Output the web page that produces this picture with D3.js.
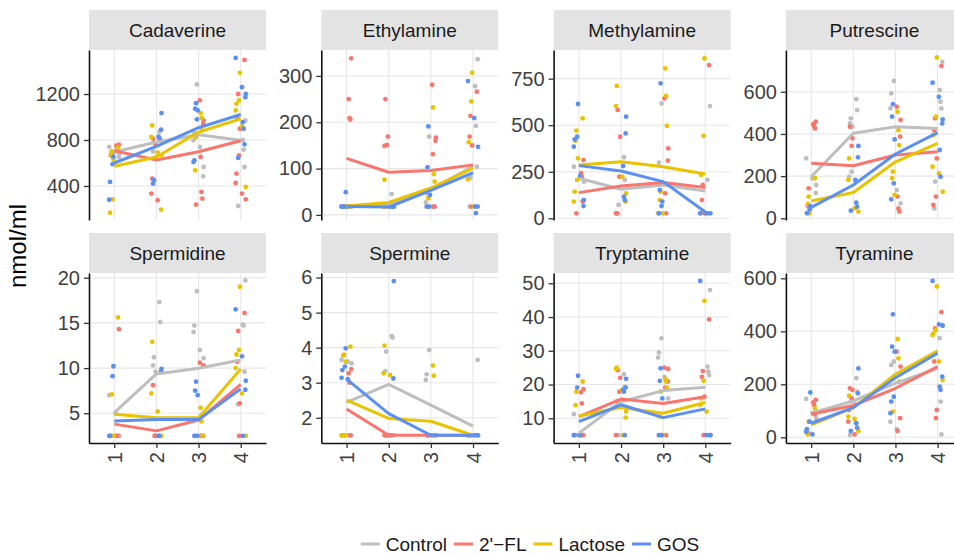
<!DOCTYPE html>
<html><head><meta charset="utf-8">
<script src="https://cdn.jsdelivr.net/npm/d3@7"></script>
<style>body{margin:0;background:#fff;} svg{display:block;font-family:"Liberation Sans",Arial,sans-serif;}</style>
</head><body><svg id="chart" width="954" height="555"></svg>
<script>
const timepoints = ["1","2","3","4"];
const groups = ["Control","2'\u2212FL","Lactose","GOS"];
const groupColors = ["#BEBEBE","#F8766D","#E8C300","#5B8FF2"];
const compounds = ["Cadaverine","Ethylamine","Methylamine","Putrescine","Spermidine","Spermine","Tryptamine","Tyramine"];
const yTicks = [[400,800,1200],[0,100,200,300],[0,250,500,750],[0,200,400,600],[5,10,15,20],[2,3,4,5,6],[10,20,30,40,50],[0,200,400,600]];
const yDomains = [[104,1583],[-11,356],[-9,904],[-8,798],[1.71,20.52],[1.28,6.13],[2.68,53.05],[-21.5,620]];

// points: [Control, 2'-FL, Lactose, GOS] x [t1..t4]
const ptsCadaverine = [
 [[740,700,680,650],[870,800,780,700,650],[1283,860,797,740,565,484],[970,800,716,565,226]],
 [[760,750,740,720,690,665],[812,760,640,464,334,276],[1144,970,941,652,348,290,238],[1497,1200,984,898,666,507,426,334,284]],
 [[733,700,668,630,284,168],[927,826,690,668,195],[1034,993,883,826,536],[1384,1144,1115,1057,918,391]],
 [[655,590,435,280],[1034,890,830,815,800,450,420],[1120,1072,1057,980,623,608],[1514,1259,1201,1172,955,898,762,644]]
];
const meanCadaverine = [[695,782,846,797],[707,626,698,794],[571,652,869,985],[600,745,907,1022]];

const ptsEthylamine = [
 [[18,18,18,18],[45,18,18,18],[169,47,27,18],[336,278,192,104,81,18]],
 [[338,250,209,206,18,18],[250,169,151,149,18,18],[281,167,160,131,18,18],[266,214,169,150,18]],
 [[18,18,18,18,18],[76,18,18,18,18],[232,88,72,36,18],[307,245,157,77,18]],
 [[49,18,18,18,18],[18,18,18,18],[191,103,43,18,18],[289,209,147,18,18,4]]
];
const meanEthylamine = [[18,22,55,105],[122,92,96,108],[19,27,58,101],[18,17,53,91]];

const ptsMethylamine = [
 [[277,224,197,98],[328,206,72,27],[617,299,27],[603,206,27]],
 [[313,242,224,90,27],[582,438,224,27,27],[644,376,310,134,27],[823,179,98,27]],
 [[537,471,417,322,206,143,90],[711,603,224,134,90],[805,657,496,143,98,27],[859,442,233,27]],
 [[614,438,424,385,227,98,66],[546,456,281,116,98],[725,152,90,66,27],[27,27,27]]
];
const meanMethylamine = [[215,156,179,147],[138,174,192,166],[286,304,277,238],[283,254,197,34]];

const ptsPutrescine = [
 [[284,190,158,120],[565,513,474,450,434,221,197],[651,592,521,134,71],[742,608,553,521,174,47]],
 [[458,446,436,426,142,60],[434,379,343],[529,466,387,103,47,32],[722,474,418,284,103,63]],
 [[190,103,68,43,24],[284,182,47,32],[505,418,347,221,190,111],[763,482,395,245,213,126]],
 [[58,43,24],[343,289,182,74,55,36],[541,482,374,166,90],[643,576,469,450,324,197]]
];
const meanPutrescine = [[197,403,434,426],[261,249,300,316],[82,122,268,355],[52,158,305,406]];

const ptsSpermidine = [
 [[7,5,2.5,2.5],[17.3,15.1,11.2,10.3,9.6,2.5],[18.5,14.7,14,12,11.1,10.2,2.5],[19.7,14.8,14.7,9.6,6.0]],
 [[14.3,2.5,2.5],[8.1,2.5,2.5],[10.6,10.3,2.5,2.5],[16.1,14.1,10.7,6.1,2.5]],
 [[15.6,7.1,2.5,2.5],[12.9,7.2,5.2,2.5],[5.6,4.1,2.5,2.5],[19,12,11.5,10,7.2,2.5]],
 [[10.2,9.1,2.5,2.5],[9.9,9.6,2.5,2.5],[8.5,7.5,7.0,2.5,2.5],[16.5,11.3,8.6,7.6,2.5]]
];
const meanSpermidine = [[5.07,9.35,9.98,10.9],[3.8,3.05,4.25,8.2],[4.9,4.5,4.5,9.9],[4.15,4.3,4.3,7.7]];

const ptsSpermine = [
 [[3.65,3.6,3.55,1.5,1.5],[4.33,4.29,3.89,3.33,1.5],[3.93,3.24,3.08,1.5],[3.65,1.5]],
 [[3.39,3.27,3.0,1.5,1.5],[1.5,1.5,1.5,1.5],[1.5,1.5,1.5],[1.5,1.5,1.5]],
 [[4.03,3.8,3.77,3.6,1.5,1.5,1.5],[4.06,3.27,3.22,1.5],[3.49,3.2,1.5],[1.5,1.5]],
 [[3.98,3.46,3.36,3.14,3.1],[5.9,3.12,1.5],[1.5,1.5],[1.5,1.5,1.5]]
];
const meanSpermine = [[2.44,2.95,2.36,1.76],[2.25,1.5,1.5,1.5],[2.5,1.98,1.9,1.5],[3.1,2.12,1.5,1.5]];

const ptsTryptamine = [
 [[11.2,5,5,5],[23,19.4,5],[33.7,29.5,28,22.3,15.9],[48,25.3,23.8,22.8]],
 [[18.6,17.7,14.4,5],[24.2,22,17.9,15,5],[25,24.6,20.9,19.1,5],[39.3,24,22.3,16.4,5]],
 [[20.9,17.9,13.9,5],[25,24.6,18.4,12,10.2,5],[21.7,20.9,19.1,17.9,10.5,5],[44.8,21.1,15.9,14,12,5]],
 [[22.6,19.1,5,5,5],[21.7,19.1,18.4,17.9,5],[24.8,21.1,15.9,5,5],[50.7,5,5,5]]
];
const meanTryptamine = [[5.6,14.9,18.2,19.2],[10.5,15.7,14.4,16.4],[10.7,13.2,11.5,14.7],[9.0,14,10.2,12.8]];

const ptsTyramine = [
 [[145,91,72],[223,172,135,9],[286,273,59,31],[424,374,135,11]],
 [[141,132,122,87,15],[185,179,147,103,59,11],[323,267,72,24],[472,411,286,103,72]],
 [[109,59,11],[157,78,69,24],[371,298,210,97],[569,405,392,386,286,216]],
 [[169,59,31,21,11],[260,166,122,53,36,24],[464,342,323,153,135,91],[590,426,421,229,191,179]]
];
const meanTyramine = [[91,137,204,260],[87,120,185,267],[47,112,238,326],[53,112,225,317]];

const allPoints = [ptsCadaverine,ptsEthylamine,ptsMethylamine,ptsPutrescine,ptsSpermidine,ptsSpermine,ptsTryptamine,ptsTyramine];
const allMeans = [meanCadaverine,meanEthylamine,meanMethylamine,meanPutrescine,meanSpermidine,meanSpermine,meanTryptamine,meanTyramine];

// fixed horizontal jitter pattern (fraction of category step)
const JITTER = [-0.12,0.07,-0.04,0.11,-0.08,0.03,0.09,-0.10,0.05,-0.02,0.12,-0.06];

const svg = d3.select("#chart");
const colX0 = 89, colStep = 232.3, panelW = 177;
const rowTop = [10, 233], stripH = 40, panelH = 170;
const FS = 19, TFS = 20;

compounds.forEach((name, k) => {
  const col = k % 4, row = Math.floor(k / 4);
  const x0 = colX0 + col * colStep, sy = rowTop[row], py = sy + stripH;
  const g = svg.append("g").attr("transform", `translate(${x0},${py})`);
  const x = d3.scalePoint().domain(timepoints).range([0, panelW]).padding(0.6);
  const y = d3.scaleLinear().domain(yDomains[k]).range([panelH, 0]);
  const step = x.step();

  // strip
  svg.append("rect").attr("x", x0).attr("y", sy).attr("width", panelW).attr("height", stripH).attr("fill", "#E3E3E3");
  svg.append("text").attr("x", x0 + panelW / 2).attr("y", sy + stripH / 2).attr("dy", "0.36em")
    .attr("text-anchor", "middle").attr("font-size", FS).attr("fill", "#1A1A1A").text(name);

  // grid
  g.selectAll(".hg").data(yTicks[k]).join("line")
    .attr("x1", 0).attr("x2", panelW).attr("y1", d => y(d)).attr("y2", d => y(d))
    .attr("stroke", "#E6E6E6").attr("stroke-width", 1.1);
  g.selectAll(".vg").data(timepoints).join("line")
    .attr("x1", d => x(d)).attr("x2", d => x(d)).attr("y1", 0).attr("y2", panelH)
    .attr("stroke", "#E6E6E6").attr("stroke-width", 1.1);

  // points
  const pts = [];
  allPoints[k].forEach((grp, gi) => grp.forEach((vals, ti) => vals.forEach((v, i) => {
    pts.push({gi, t: timepoints[ti], v, j: JITTER[(i * 5 + gi * 3 + ti) % JITTER.length]});
  })));
  g.selectAll(".pt").data(pts).join("circle")
    .attr("cx", d => x(d.t) + d.j * step).attr("cy", d => y(d.v)).attr("r", 2.4)
    .attr("fill", d => groupColors[d.gi]);

  // mean lines
  const line = d3.line().x((d, i) => x(timepoints[i])).y(d => y(d));
  allMeans[k].forEach((m, gi) => {
    g.append("path").attr("d", line(m)).attr("fill", "none")
      .attr("stroke", groupColors[gi]).attr("stroke-width", 3).attr("stroke-linejoin", "round");
  });

  // y axis
  const ya = g.append("g").call(d3.axisLeft(y).tickValues(yTicks[k]).tickFormat(d => String(d))
    .tickSize(5).tickSizeOuter(0).tickPadding(4));
  ya.select(".domain").attr("stroke", "#111").attr("stroke-width", 1.6);
  ya.selectAll(".tick line").attr("stroke", "#333").attr("stroke-width", 1.3);
  ya.selectAll("text").attr("font-size", TFS).attr("fill", "#404040").attr("font-family", "Liberation Sans, Arial, sans-serif");

  // x axis (bottom row only)
  if (row === 1) {
    const xa = g.append("g").attr("transform", `translate(0,${panelH})`)
      .call(d3.axisBottom(x).tickSize(5).tickSizeOuter(0));
    xa.select(".domain").attr("stroke", "#111").attr("stroke-width", 1.6);
    xa.selectAll(".tick line").attr("stroke", "#333").attr("stroke-width", 1.3);
    xa.selectAll("text").attr("font-size", TFS).attr("fill", "#404040")
      .attr("font-family", "Liberation Sans, Arial, sans-serif")
      .attr("transform", "rotate(-90)").attr("x", -9).attr("y", 0).attr("dy", "0.35em")
      .attr("text-anchor", "end");
  }
});

// y-axis title
svg.append("text").attr("transform", "translate(26,246) rotate(-90)")
  .attr("text-anchor", "middle").attr("font-size", 24).attr("fill", "#000").text("nmol/ml");

// legend
const lg = svg.append("g");
let cx = 0;
groups.forEach((gname, gi) => {
  lg.append("line").attr("x1", cx).attr("x2", cx + 19).attr("y1", 0).attr("y2", 0)
    .attr("stroke", groupColors[gi]).attr("stroke-width", 3);
  const t = lg.append("text").attr("x", cx + 25).attr("y", 0).attr("dy", "0.36em")
    .attr("font-size", FS).attr("fill", "#1A1A1A").text(gname);
  cx += 25 + t.node().getComputedTextLength() + 7;
});
const legW = cx - 7;
lg.attr("transform", `translate(${530 - legW / 2},544)`);
</script></body></html>
